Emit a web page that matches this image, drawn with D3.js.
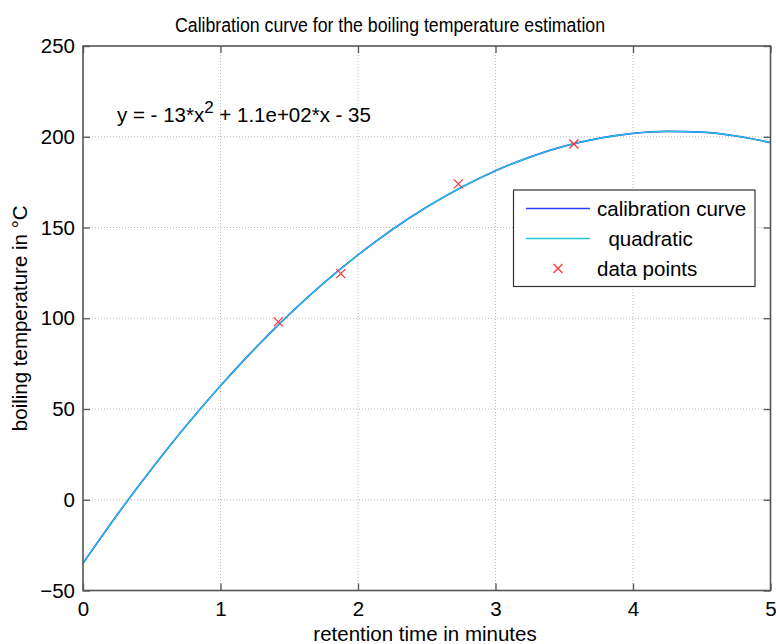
<!DOCTYPE html>
<html><head><meta charset="utf-8">
<script src="https://cdn.jsdelivr.net/npm/d3@7"></script>
<style>
html,body{margin:0;padding:0;background:#fff;}
svg{display:block;font-family:"Liberation Sans",Arial,sans-serif;}
</style></head>
<body><svg id="c" width="776" height="644"></svg>
<script>
// ---- data ----
const curveX = [0,0.25,0.5,0.75,1,1.25,1.5,1.75,2,2.25,2.5,2.75,3,3.25,3.5,3.75,4,4.25,4.5,4.75,5];
const curveY = [-35,-8.1,17.1,40.8,62.8,83.3,102.1,119.3,134.9,148.9,161.3,172.1,181.3,188.8,194.8,199.1,201.9,203.0,202.5,200.4,196.8];
const pointsX = [1.42,1.875,2.73,3.57];
const pointsY = [98,124.6,174,196];
const xTicks = [0,1,2,3,4,5];
const yTicks = [-50,0,50,100,150,200,250];
const legendLabels = ["calibration curve","  quadratic","data points"];
const titleText = "Calibration curve for the boiling temperature estimation";
const xLabel = "retention time in minutes";
const yLabel = "boiling temperature in \u00B0C";

// ---- layout ----
const L=83, R=770.5, T=46, B=590.5;
const svg=d3.select("#c");
const x=d3.scaleLinear().domain([0,5]).range([L,R]);
const y=d3.scaleLinear().domain([-50,250]).range([B,T]);
const axisCol="#555", fs=20.5, tfs=19.5;
const FF='"Liberation Sans",Arial,sans-serif';

// grid
const g=svg.append("g");
g.selectAll(".gx").data(xTicks.slice(1,-1)).enter().append("line")
 .attr("x1",d=>x(d)).attr("x2",d=>x(d)).attr("y1",T).attr("y2",B)
 .attr("stroke","#bbb").attr("stroke-width",1).attr("stroke-dasharray","1,2");
g.selectAll(".gy").data(yTicks.slice(1,-1)).enter().append("line")
 .attr("y1",d=>y(d)).attr("y2",d=>y(d)).attr("x1",L).attr("x2",R)
 .attr("stroke","#bbb").attr("stroke-width",1).attr("stroke-dasharray","1,2");

// curves
const pts=curveX.map((v,i)=>[v,curveY[i]]);
const line=d3.line().x(d=>x(d[0])).y(d=>y(d[1])).curve(d3.curveMonotoneX);
svg.append("clipPath").attr("id","pc").append("rect").attr("x",L).attr("y",T).attr("width",R-L).attr("height",B-T);
svg.append("path").attr("d",line(pts)).attr("fill","none").attr("stroke","#2a3cff").attr("stroke-width",1.7).attr("clip-path","url(#pc)");
svg.append("path").attr("d",line(pts)).attr("fill","none").attr("stroke","#1fc8d8").attr("stroke-width",1.2).attr("clip-path","url(#pc)");

// data points
const mk=4.5;
const pg=svg.append("g").attr("stroke","#ff3030").attr("stroke-width",1.2);
pointsX.forEach((v,i)=>{
  const cx=x(v), cy=y(pointsY[i]);
  pg.append("line").attr("x1",cx-mk).attr("y1",cy-mk).attr("x2",cx+mk).attr("y2",cy+mk);
  pg.append("line").attr("x1",cx-mk).attr("y1",cy+mk).attr("x2",cx+mk).attr("y2",cy-mk);
});

// axes with inward ticks
const tk=7;
const xa=d3.axisBottom(x).tickValues(xTicks).tickSize(-tk).tickPadding(11).tickFormat(d3.format("d"));
const ya=d3.axisLeft(y).tickValues(yTicks).tickSize(-tk).tickPadding(8).tickFormat(d3.format("d"));
const xg=svg.append("g").attr("transform",`translate(0,${B})`).call(xa);
const yg=svg.append("g").attr("transform",`translate(${L},0)`).call(ya);
const xt=svg.append("g").attr("transform",`translate(0,${T})`).call(d3.axisTop(x).tickValues(xTicks).tickSize(-tk).tickFormat(""));
const yr=svg.append("g").attr("transform",`translate(${R},0)`).call(d3.axisRight(y).tickValues(yTicks).tickSize(-tk).tickFormat(""));
[xg,yg,xt,yr].forEach(a=>{
  a.select(".domain").remove();
  a.selectAll(".tick line").attr("stroke",axisCol).attr("stroke-width",1.3);
  a.selectAll("text").attr("fill","#000").style("font-size",fs+"px").style("font-family",FF);
});
svg.append("rect").attr("x",L).attr("y",T).attr("width",R-L).attr("height",B-T)
 .attr("fill","none").attr("stroke",axisCol).attr("stroke-width",1.6);

// title & labels
svg.append("text").attr("x",175).attr("y",31.5).attr("textLength",430).attr("lengthAdjust","spacingAndGlyphs")
 .style("font-size",tfs+"px").text(titleText);
svg.append("text").attr("x",425).attr("y",641).attr("text-anchor","middle").style("font-size",fs+"px").text(xLabel);
svg.append("text").attr("transform",`translate(27,${(T+B)/2}) rotate(-90)`).attr("text-anchor","middle").style("font-size",fs+"px").text(yLabel);

// equation
const eq=svg.append("text").attr("x",117).attr("y",122).style("font-size",fs+"px");
eq.append("tspan").text("y = - 13*x");
eq.append("tspan").attr("dy",-9).style("font-size","17px").text("2");
eq.append("tspan").attr("dy",9).text(" + 1.1e+02*x - 35");

// legend
const lg=svg.append("g");
lg.append("rect").attr("x",513.5).attr("y",190).attr("width",241.5).attr("height",96.5).attr("fill","#fff").attr("stroke","#333").attr("stroke-width",1.2);
const rows=[208.5,238.5,268.5];
lg.append("line").attr("x1",526).attr("x2",590).attr("y1",rows[0]).attr("y2",rows[0]).attr("stroke","#2a3cff").attr("stroke-width",1.3);
lg.append("line").attr("x1",526).attr("x2",590).attr("y1",rows[1]).attr("y2",rows[1]).attr("stroke","#1fc8d8").attr("stroke-width",1.3);
const lx=558, ly=rows[2];
lg.append("line").attr("x1",lx-mk).attr("y1",ly-mk).attr("x2",lx+mk).attr("y2",ly+mk).attr("stroke","#ff3030").attr("stroke-width",1.2);
lg.append("line").attr("x1",lx-mk).attr("y1",ly+mk).attr("x2",lx+mk).attr("y2",ly-mk).attr("stroke","#ff3030").attr("stroke-width",1.2);
legendLabels.forEach((t,i)=>{
  lg.append("text").attr("x",597).attr("y",rows[i]+7.5).style("font-size",fs+"px").attr("xml:space","preserve").style("white-space","pre").text(t);
});
</script></body></html>
